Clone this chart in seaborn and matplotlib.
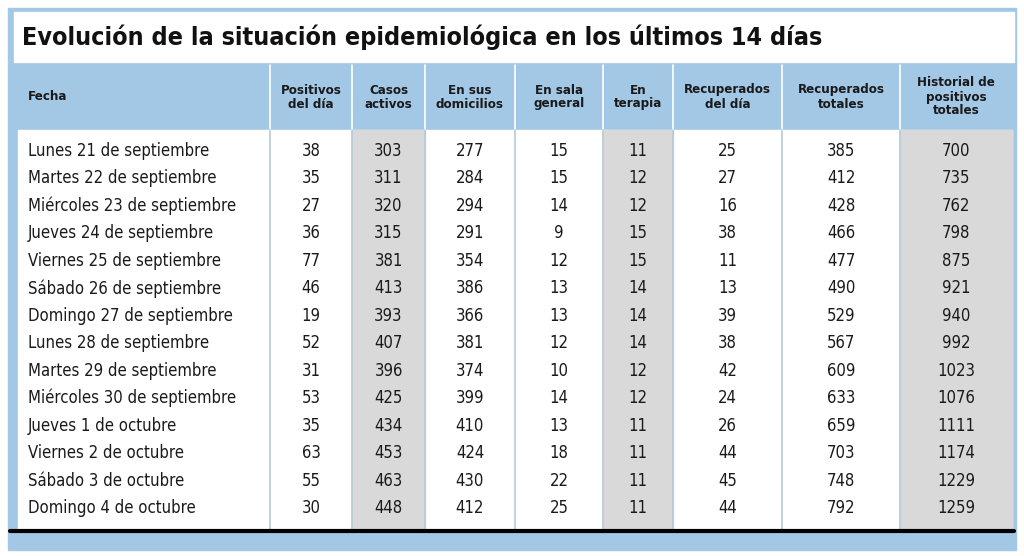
import matplotlib
matplotlib.use("Agg")
import matplotlib.pyplot as plt
import seaborn as sns
from matplotlib.patches import Rectangle

sns.set_theme(style="white")
plt.rcParams['font.family'] = ['DejaVu Sans']
plt.rcParams['font.stretch'] = 'condensed'

title = "Evolución de la situación epidemiológica en los últimos 14 días"
headers = ["Fecha", "Positivos\ndel día", "Casos\nactivos", "En sus\ndomicilios", "En sala\ngeneral",
           "En\nterapia", "Recuperados\ndel día", "Recuperados\ntotales", "Historial de\npositivos\ntotales"]
fechas = ["Lunes 21 de septiembre", "Martes 22 de septiembre", "Miércoles 23 de septiembre",
          "Jueves 24 de septiembre", "Viernes 25 de septiembre", "Sábado 26 de septiembre",
          "Domingo 27 de septiembre", "Lunes 28 de septiembre", "Martes 29 de septiembre",
          "Miércoles 30 de septiembre", "Jueves 1 de octubre", "Viernes 2 de octubre",
          "Sábado 3 de octubre", "Domingo 4 de octubre"]
positivos = [38, 35, 27, 36, 77, 46, 19, 52, 31, 53, 35, 63, 55, 30]
activos = [303, 311, 320, 315, 381, 413, 393, 407, 396, 425, 434, 453, 463, 448]
domicilios = [277, 284, 294, 291, 354, 386, 366, 381, 374, 399, 410, 424, 430, 412]
sala = [15, 15, 14, 9, 12, 13, 13, 12, 10, 14, 13, 18, 22, 25]
terapia = [11, 12, 12, 15, 15, 14, 14, 14, 12, 12, 11, 11, 11, 11]
recup_dia = [25, 27, 16, 38, 11, 13, 39, 38, 42, 24, 26, 44, 45, 44]
recup_tot = [385, 412, 428, 466, 477, 490, 529, 567, 609, 633, 659, 703, 748, 792]
historial = [700, 735, 762, 798, 875, 921, 940, 992, 1023, 1076, 1111, 1174, 1229, 1259]
columns = [positivos, activos, domicilios, sala, terapia, recup_dia, recup_tot, historial]
shaded = [False, True, False, False, True, False, False, True]

edges = [18, 270, 352, 425, 515, 603, 673, 782, 900, 1012]
blue = "#a3c8e6"
gray = "#d9d9d9"

fig = plt.figure(figsize=(10.24, 5.56), dpi=100)
ax = fig.add_axes([0, 0, 1, 1])
ax.set_xlim(0, 1024); ax.set_ylim(556, 0); ax.axis("off")

ax.add_patch(Rectangle((8, 8), 1008, 542, color=blue, zorder=0))
ax.add_patch(Rectangle((14, 12), 1000, 50, color="white", zorder=1))
ax.add_patch(Rectangle((18, 130), 994, 400, color="white", zorder=1))
for i, s in enumerate(shaded):
    if s:
        ax.add_patch(Rectangle((edges[i+1], 130), edges[i+2]-edges[i+1], 400, color=gray, zorder=2))
for x in edges[1:-1]:
    ax.plot([x, x], [65, 130], color="white", lw=1.2, zorder=3)
    ax.plot([x, x], [130, 530], color="#b7c9d8", lw=1.2, zorder=3)
ax.plot([10, 1014], [531, 531], color="black", lw=3, zorder=4)

ax.text(22, 37, title, fontsize=18, fontweight="bold", va="center", ha="left", color="#111111", zorder=5)
ax.text(28, 97, headers[0], fontsize=9.5, fontweight="bold", va="center", ha="left", color="#1a1a1a", zorder=5)
for i, h in enumerate(headers[1:]):
    cx = (edges[i+1] + edges[i+2]) / 2
    ax.text(cx, 97, h, fontsize=9.5, fontweight="bold", va="center", ha="center",
            color="#1a1a1a", linespacing=1.1, zorder=5)

y0, dy = 151, 27.46
for r, f in enumerate(fechas):
    y = y0 + r * dy
    ax.text(28, y, f, fontsize=12, va="center", ha="left", color="#1a1a1a", zorder=5)
    for i, col in enumerate(columns):
        cx = (edges[i+1] + edges[i+2]) / 2
        ax.text(cx, y, str(col[r]), fontsize=12, va="center", ha="center", color="#1a1a1a", zorder=5)

fig.savefig("out.png", dpi=100)
